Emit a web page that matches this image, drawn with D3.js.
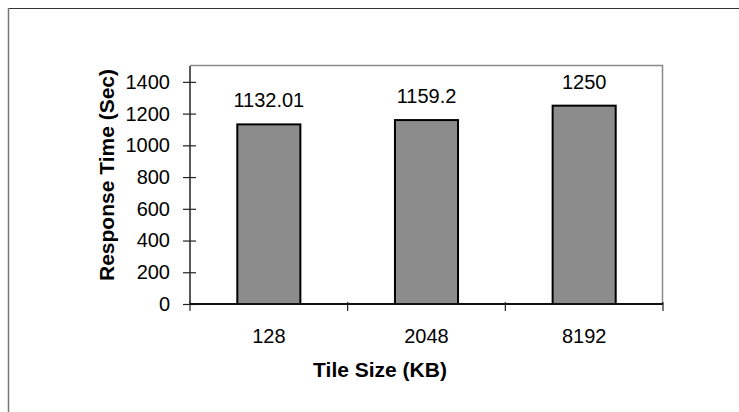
<!DOCTYPE html>
<html>
<head>
<meta charset="utf-8">
<script src="https://cdn.jsdelivr.net/npm/d3@7"></script>
<style>
  html, body { margin: 0; padding: 0; background: #fff; }
  svg { display: block; font-family: Arial, "Liberation Sans", sans-serif; }
</style>
</head>
<body>
<svg id="chart" width="739" height="412"></svg>
<script>
// Response time per tile size
const categories = ["128", "2048", "8192"];
const responseTimes = [1132.01, 1159.2, 1250];
const valueLabels = ["1132.01", "1159.2", "1250"];
const yTicks = [0, 200, 400, 600, 800, 1000, 1200, 1400];

const FONT = "Arial, 'Liberation Sans', sans-serif";
const svg = d3.select("#chart");
const plot = { left: 190, right: 663, top: 66, bottom: 304 };

// outer chart frame (top and left edges)
svg.append("line").attr("x1", 8).attr("x2", 739).attr("y1", 8.5).attr("y2", 8.5)
  .attr("stroke", "#333").attr("stroke-width", 1.2);
svg.append("line").attr("x1", 8.5).attr("x2", 8.5).attr("y1", 8).attr("y2", 412)
  .attr("stroke", "#777").attr("stroke-width", 1.5);

const x = d3.scaleBand().domain(categories)
  .range([plot.left, plot.right]).paddingInner(0.6).paddingOuter(0.3);
const y = d3.scaleLinear().domain([0, 1500]).range([plot.bottom, plot.top]);

// plot area border (top & right)
svg.append("path")
  .attr("d", `M${plot.left},${plot.top - 0.5}H${plot.right - 0.5}V${plot.bottom}`)
  .attr("fill", "none").attr("stroke", "#8a8a8a").attr("stroke-width", 1.5);

// bars
svg.append("g").selectAll("rect").data(categories).join("rect")
  .attr("x", d => x(d))
  .attr("y", (d, i) => y(responseTimes[i]))
  .attr("width", x.bandwidth())
  .attr("height", (d, i) => y(0) - y(responseTimes[i]))
  .attr("fill", "#8c8c8c").attr("stroke", "#000").attr("stroke-width", 2);

// value labels
svg.append("g").selectAll("text").data(categories).join("text")
  .attr("x", d => x(d) + x.bandwidth() / 2)
  .attr("y", (d, i) => y(responseTimes[i]) - 17)
  .attr("text-anchor", "middle")
  .attr("font-family", FONT)
  .attr("font-size", "20px").attr("fill", "#000")
  .text((d, i) => valueLabels[i]);

// y axis
const yAxis = svg.append("g").attr("transform", `translate(${plot.left},0)`)
  .call(d3.axisLeft(y).tickValues(yTicks).tickSize(6).tickPadding(14).tickFormat(d3.format("d")));
yAxis.attr("font-size", null).attr("font-family", null);
yAxis.select(".domain").attr("stroke", "#222").attr("stroke-width", 1.5)
  .attr("d", `M0,${plot.top}V${plot.bottom}`);
yAxis.selectAll(".tick line").attr("x1", -7).attr("x2", 6).attr("stroke", "#222").attr("stroke-width", 1.2);
yAxis.selectAll(".tick text").attr("font-size", "20px").attr("fill", "#000")
  .attr("font-family", FONT);

// x axis with tick marks on category boundaries
const xAxis = svg.append("g").attr("transform", `translate(0,${plot.bottom})`)
  .call(d3.axisBottom(x).tickSize(0).tickPadding(25));
xAxis.attr("font-size", null).attr("font-family", null);
xAxis.select(".domain").attr("stroke", "#111").attr("stroke-width", 2)
  .attr("d", `M${plot.left},0H${plot.right}`);
xAxis.selectAll(".tick text").attr("font-size", "20px").attr("fill", "#000")
  .attr("font-family", FONT);
const bounds = d3.range(categories.length + 1).map(i => plot.left + i * (plot.right - plot.left) / categories.length);
xAxis.append("g").selectAll("line").data(bounds).join("line")
  .attr("x1", d => d).attr("x2", d => d).attr("y1", -2).attr("y2", 7)
  .attr("stroke", "#222").attr("stroke-width", 1.2);

// axis titles
svg.append("text")
  .attr("transform", "translate(114,175) rotate(-90)")
  .attr("text-anchor", "middle")
  .attr("font-family", FONT)
  .attr("font-size", "21px").attr("font-weight", "bold").attr("fill", "#000")
  .text("Response Time (Sec)");
svg.append("text")
  .attr("x", 380).attr("y", 377)
  .attr("text-anchor", "middle")
  .attr("font-family", FONT)
  .attr("font-size", "21px").attr("font-weight", "bold").attr("fill", "#000")
  .text("Tile Size (KB)");
</script>
</body>
</html>
